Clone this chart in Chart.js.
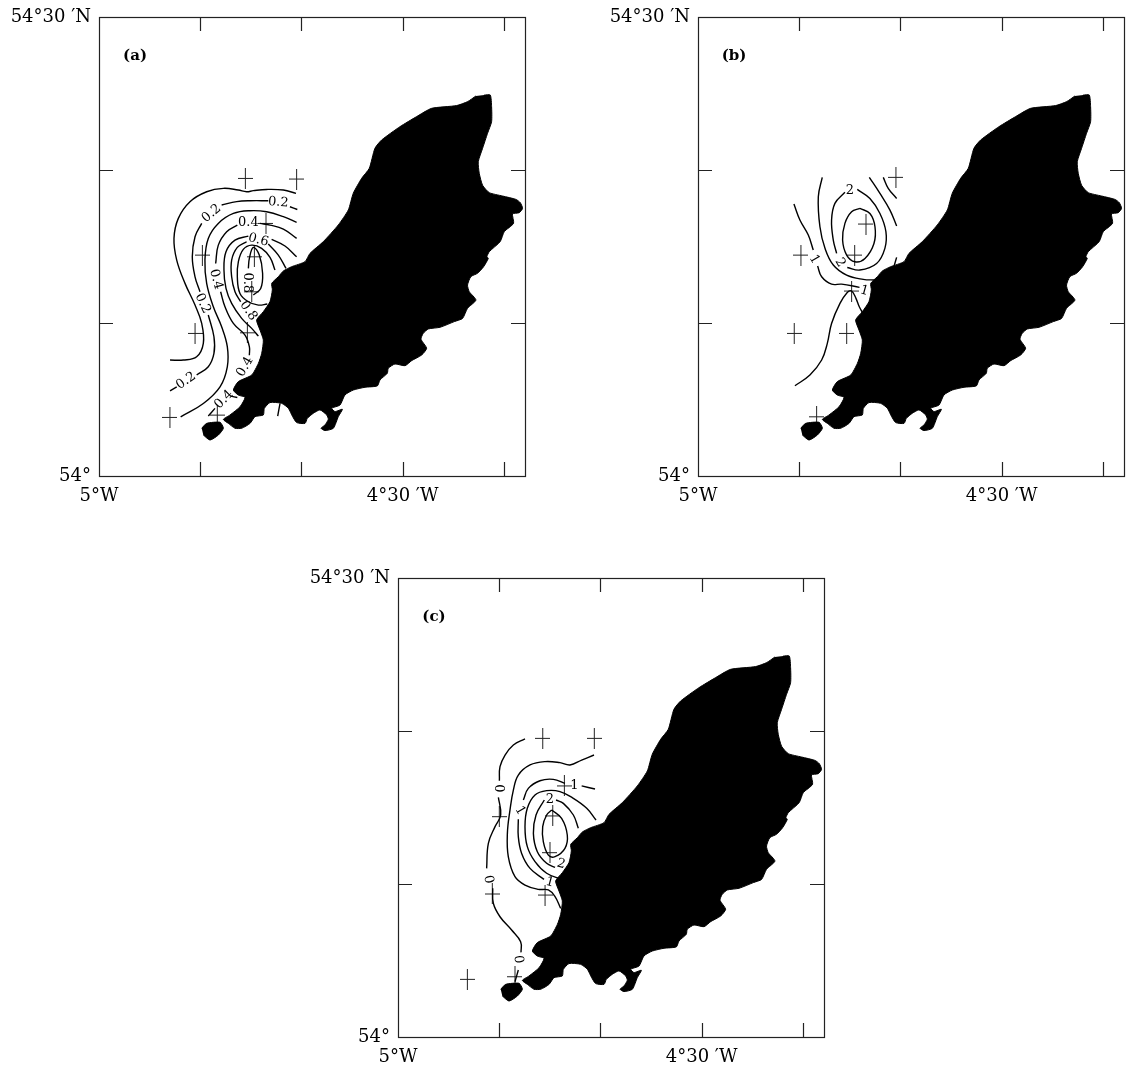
<!DOCTYPE html>
<html>
<head>
<meta charset="utf-8">
<script src="https://cdn.jsdelivr.net/npm/chart.js@4/dist/chart.umd.min.js"></script>
<style>
  html, body { margin: 0; padding: 0; background: #fff; }
  body { position: relative; width: 1128px; height: 1068px; overflow: hidden; }
  canvas { position: absolute; }
</style>
</head>
<body>
<canvas id="panelA" style="left:0;top:0"></canvas>
<canvas id="panelB" style="left:599px;top:0"></canvas>
<canvas id="panelC" style="left:299px;top:561px"></canvas>
<script>
// All positions are arc minutes: x east of 5 deg W, y north of 54 deg N
const xTickLabels = ['5°W', '', '', '4°30 ′W', ''];
const yTickLabels = ['54°', '', '', '54°30 ′N'];

const island = [
  [38.07,24.90],[38.67,24.90],[38.80,24.14],[38.80,23.16],[38.40,22.40],[37.91,21.42],[37.48,20.54],[37.58,19.78],
  [37.91,19.00],[38.57,18.52],[39.88,18.30],[41.20,18.08],[41.63,17.87],[41.86,17.49],[41.53,17.21],[40.87,17.13],
  [40.97,16.51],[40.05,15.97],[39.65,15.32],[38.57,14.66],[38.34,14.34],[38.47,14.22],[38.01,13.68],[37.41,13.25],
  [36.75,13.03],[36.42,12.48],[36.59,12.05],[37.25,11.50],[36.42,10.96],[35.93,10.30],[35.11,10.09],[33.70,9.72],
  [32.55,9.61],[32.05,9.33],[31.82,8.94],[32.38,8.35],[31.89,7.91],[30.90,7.54],[30.24,7.21],[29.25,7.32],
  [28.59,7.04],[28.49,6.71],[27.77,6.28],[27.51,5.89],[26.29,5.80],[25.14,5.62],[24.31,5.30],[23.82,4.64],
  [23.00,4.43],[23.32,4.21],[24.05,4.36],[23.65,3.88],[23.16,3.12],[22.34,2.97],[21.94,3.12],[22.34,3.34],
  [22.66,3.71],[22.50,3.99],[21.84,4.32],[21.18,4.10],[20.59,3.77],[20.36,3.44],[19.54,3.49],[19.14,3.88],
  [18.71,4.43],[18.05,4.75],[16.90,4.80],[16.34,4.42],[16.24,3.99],[15.42,3.88],[14.93,3.44],[14.10,3.12],
  [13.44,3.12],[12.78,3.44],[12.29,3.70],[12.95,3.99],[13.94,4.53],[14.43,5.14],[13.77,5.29],[13.28,5.62],
  [13.77,6.17],[15.09,6.60],[15.75,7.36],[16.08,8.02],[16.24,8.89],[15.91,9.54],[15.58,10.20],[16.24,10.74],
  [16.90,11.40],[17.13,12.16],[17.07,12.59],[17.73,13.03],[18.22,13.40],[19.04,13.68],[20.36,14.01],[20.85,14.55],
  [22.17,15.32],[23.65,16.41],[24.64,17.39],[25.13,18.48],[25.96,19.46],[26.71,20.11],[27.27,21.42],[27.93,21.96],
  [29.74,22.83],[31.39,23.49],[32.87,24.03],[35.34,24.21],[36.43,24.47],[37.25,24.84]
];
const calf = [[10.15,3.12],[10.64,3.44],[11.96,3.51],[12.29,3.12],[11.80,2.68],[10.97,2.35],[10.31,2.68]];

const stationsA = [[14.46,19.45],[19.53,19.41],[16.50,16.51],[10.21,14.44],[15.35,14.33],[15.09,12.04],[9.49,9.32],[14.66,9.36],[7.01,3.83],[11.69,3.98]];
const stationsB = [[19.56,19.52],[16.60,16.47],[10.17,14.44],[15.48,14.44],[15.18,12.09],[9.51,9.32],[14.69,9.32],[11.72,3.87]];
const stationsC = [[14.30,19.52],[19.40,19.52],[16.44,16.41],[10.01,14.40],[15.29,14.45],[15.02,12.05],[9.32,9.35],[14.53,9.28],[6.85,3.77],[11.56,3.94]];

const contoursA = [
  [[19.47,18.47],[18.22,18.69],[16.57,18.73],[15.25,18.65],[14.59,18.58],[13.77,18.69],[12.29,18.80],[10.64,18.58],[8.99,17.93],[7.84,16.84],[7.41,15.53],[7.68,14.11],[8.50,12.59],[9.49,11.17],[10.15,9.97],[10.31,8.67],[9.65,7.79],[8.33,7.58],[7.02,7.58]],
  [[16.73,17.99],[14.92,17.99],[13.60,17.93],[12.12,17.71]],
  [[10.15,16.51],[9.49,15.64],[9.22,14.33],[9.49,13.02],[9.98,12.04]],
  [[10.80,10.52],[11.36,9.10],[11.36,8.01],[10.80,7.14],[9.65,6.60]],
  [[7.02,5.57],[7.68,5.83]],
  [[18.87,17.60],[19.60,17.42]],
  [[19.53,16.58],[18.22,16.95],[16.57,17.27],[14.92,17.34],[13.28,17.16],[11.79,16.51],[10.80,15.53],[10.47,14.11],[10.64,12.59],[11.30,11.06],[12.12,9.75],[12.68,8.45],[12.68,7.14],[11.96,5.83],[10.31,4.74],[8.07,3.87]],
  [[19.53,15.53],[18.22,16.14],[16.90,16.40],[15.91,16.51]],
  [[13.67,16.40],[12.62,15.97],[11.79,15.09],[11.53,13.89]],
  [[12.02,12.04],[12.45,11.06],[13.28,9.97],[14.43,9.21],[14.86,8.45],[14.86,7.90]],
  [[10.80,3.92],[11.46,4.42]],
  [[13.04,5.22],[13.67,5.13]],
  [[19.53,14.33],[18.38,15.03],[17.06,15.46]],
  [[14.76,15.68],[13.44,15.42],[12.55,14.66],[12.35,13.46],[12.55,12.26],[13.11,11.28],[14.10,10.30],[15.09,9.65],[15.75,9.14]],
  [[18.48,13.57],[17.72,14.44],[16.73,15.16]],
  [[14.59,15.31],[13.67,14.94],[13.11,14.11],[13.11,13.02],[13.44,12.04],[14.00,11.39]],
  [[17.39,13.46],[16.90,14.29],[16.07,14.88],[15.09,15.09],[14.26,14.81],[13.77,14.00],[13.67,13.02],[13.93,11.93],[14.76,11.39],[15.75,11.17],[16.63,11.24]],
  [[14.76,13.57],[14.86,14.22],[15.25,14.94],[15.84,14.44],[16.17,13.24],[15.98,12.26],[15.25,11.83]],
  [[17.89,4.75],[17.66,3.92]]
];
const contoursB = [
  [[9.48,17.77],[10.07,16.73],[10.90,15.75],[11.39,14.77]],
  [[11.82,13.72],[12.22,13.02],[13.20,12.54],[14.19,12.54],[15.96,12.33]],
  [[12.28,19.52],[11.89,18.25],[12.05,16.29],[12.55,14.88],[13.37,13.79],[14.69,13.13],[16.33,12.85],[17.49,12.81]],
  [[14.52,18.54],[13.53,17.82],[13.20,16.73],[13.37,15.42],[13.70,14.55]],
  [[15.74,18.73],[16.99,18.14],[17.98,17.16],[18.57,15.97],[18.47,14.88],[17.65,13.89],[16.00,13.46],[14.75,13.63]],
  [[16.00,17.49],[16.99,17.16],[17.49,16.29],[17.39,15.20],[16.50,14.22],[15.51,14.00],[14.69,14.44],[14.29,15.42],[14.52,16.51],[15.18,17.27],[16.00,17.49]],
  [[16.93,19.52],[17.98,18.47],[18.97,17.38],[19.63,16.34]],
  [[18.31,19.52],[18.80,18.80],[19.63,18.14]],
  [[19.63,14.29],[19.36,13.68]],
  [[9.58,5.90],[11.06,6.60],[12.22,7.58],[12.78,8.67],[13.20,9.97],[14.03,11.28],[14.75,12.00],[15.18,12.09],[15.61,11.61],[15.94,11.06],[16.27,10.67]]
];
const contoursC = [
  [[12.55,19.48],[11.40,19.09],[10.58,18.43],[10.08,17.67],[10.02,16.75]],
  [[9.92,15.66],[10.15,14.51],[9.59,13.75],[8.93,12.66],[8.76,11.02]],
  [[9.36,9.72],[9.42,8.74],[10.08,7.86],[11.23,6.99],[12.12,6.23],[12.16,5.53]],
  [[11.89,4.38],[11.56,3.61]],
  [[19.37,18.43],[18.15,18.10],[17.00,17.78],[16.01,17.93],[14.53,18.00],[13.05,17.78],[11.89,17.12],[11.40,16.14],[11.07,14.84],[10.81,13.31],[10.90,11.79],[11.56,10.48],[12.55,9.93],[13.87,9.65],[14.86,9.61],[15.52,9.17],[16.08,8.41]],
  [[12.39,15.49],[12.88,16.25],[14.03,16.75],[15.35,16.84],[16.50,16.58]],
  [[18.15,16.41],[19.47,16.21]],
  [[11.89,14.23],[11.89,13.09],[12.22,12.00],[13.05,11.02],[14.43,10.30]],
  [[19.57,14.18],[18.65,14.95],[17.33,15.60],[16.01,16.04],[14.69,16.10],[13.54,15.82],[12.78,14.95],[12.55,13.75],[12.78,12.44],[13.54,11.46],[14.69,10.70],[16.17,10.30]],
  [[17.82,13.64],[17.33,14.51],[16.34,15.27],[15.62,15.49]],
  [[14.46,15.49],[13.64,14.51],[13.38,13.31],[13.77,12.11],[14.69,11.35],[15.52,11.09]],
  [[15.19,14.84],[16.17,14.29],[16.73,13.20],[16.50,12.33],[15.52,11.79],[14.86,11.89],[14.36,12.77],[14.30,13.75],[14.69,14.51],[15.19,14.84]]
];

// text, x, y, rotation in degrees
const contourLabelsA = [
  ['0.2',17.72,17.88,5],['0.2',11.13,17.16,-40],['0.4',14.76,16.55,0],['0.6',15.75,15.42,15],
  ['0.4',11.56,12.85,75],['0.8',14.66,12.63,90],['0.2',10.25,11.28,65],['0.8',14.76,10.80,55],
  ['0.4',14.43,7.14,-60],['0.2',8.60,6.22,-35],['0.4',12.35,5.00,-45]
];
const contourLabelsB = [['2',15.00,18.65,0],['1',11.49,14.16,60],['2',14.03,13.94,60],['1',16.43,12.11,15]];
const contourLabelsC = [
  ['0',9.92,16.25,90],['0',8.93,10.30,80],['0',11.89,5.07,85],['1',17.43,16.41,0],
  ['1',12.06,14.79,60],['2',15.02,15.53,0],['2',16.11,11.31,15],['1',15.02,10.11,15]
];

const SERIF = '"DejaVu Serif", serif';
const toPoints = pairs => pairs.map(p => ({ x: p[0], y: p[1] }));

// Thin, slightly tall cross used for the stations
const crossMark = document.createElement('canvas');
crossMark.width = 15;
crossMark.height = 21;
const cm = crossMark.getContext('2d');
cm.fillStyle = '#222';
cm.fillRect(7, 0, 1, 21);
cm.fillRect(0, 10, 15, 1);

// Frame and inward ticks, the scales only give the positions
const framePlugin = {
  id: 'frame',
  afterDraw: (chart) => {
    const ctx = chart.ctx;
    const a = chart.chartArea;
    const TICK = 14;
    ctx.save();
    ctx.strokeStyle = '#222';
    ctx.lineWidth = 1.2;
    ctx.strokeRect(a.left + 0.5, a.top + 0.5, a.right - a.left, a.bottom - a.top);
    ctx.beginPath();
    chart.scales.x.ticks.forEach(t => {
      if (t.value === 0) return;
      const px = Math.round(chart.scales.x.getPixelForValue(t.value)) + 0.5;
      ctx.moveTo(px, a.bottom);
      ctx.lineTo(px, a.bottom - TICK);
      ctx.moveTo(px, a.top);
      ctx.lineTo(px, a.top + TICK);
    });
    chart.scales.y.ticks.forEach(t => {
      if (t.value === 0 || t.value === 30) return;
      const py = Math.round(chart.scales.y.getPixelForValue(t.value)) + 0.5;
      ctx.moveTo(a.left, py);
      ctx.lineTo(a.left + TICK, py);
      ctx.moveTo(a.right, py);
      ctx.lineTo(a.right - TICK, py);
    });
    ctx.stroke();
    ctx.restore();
  }
};

// Contour values and the panel letter
const textPlugin = {
  id: 'mapText',
  afterDatasetsDraw: (chart, args, opts) => {
    const ctx = chart.ctx;
    const sx = chart.scales.x;
    const sy = chart.scales.y;
    ctx.save();
    ctx.fillStyle = '#000';
    ctx.textAlign = 'center';
    ctx.textBaseline = 'middle';
    ctx.font = 'bold 15px ' + SERIF;
    ctx.fillText(opts.letter, sx.getPixelForValue(3.56), sy.getPixelForValue(27.45));
    ctx.font = '13px ' + SERIF;
    opts.labels.forEach(l => {
      ctx.save();
      ctx.translate(sx.getPixelForValue(l[1]), sy.getPixelForValue(l[2]));
      ctx.rotate(l[3] * Math.PI / 180);
      ctx.fillText(l[0], 0, 0);
      ctx.restore();
    });
    ctx.restore();
  }
};

function createPanel(id, letter, contours, stations, labels) {
  const canvas = document.getElementById(id);
  canvas.width = 535;
  canvas.height = 520;
  const datasets = [];
  [island, calf].forEach(shape => {
    datasets.push({
      data: toPoints(shape), showLine: true, fill: 'shape', backgroundColor: '#000',
      borderColor: '#000', borderWidth: 1, pointRadius: 0, tension: 0.2
    });
  });
  contours.forEach(line => {
    datasets.push({
      data: toPoints(line), showLine: true, fill: false, borderColor: '#000',
      borderWidth: 1.4, pointRadius: 0, tension: 0.4
    });
  });
  datasets.push({
    data: toPoints(stations), showLine: false, pointStyle: crossMark, pointRadius: 8
  });
  return new Chart(canvas, {
    type: 'scatter',
    data: { datasets: datasets },
    options: {
      responsive: false,
      animation: false,
      layout: { padding: { top: 17, right: 10, bottom: 0, left: 0 } },
      plugins: {
        legend: { display: false },
        tooltip: { enabled: false },
        mapText: { letter: letter, labels: labels }
      },
      scales: {
        x: {
          type: 'linear', min: 0, max: 42.1,
          grid: { display: false }, border: { display: false },
          afterFit: s => { s.height = 44; },
          ticks: {
            stepSize: 10, includeBounds: false, autoSkip: false, maxRotation: 0, padding: 2,
            color: '#000', font: { family: SERIF, size: 18 },
            callback: (v, i) => xTickLabels[i]
          }
        },
        y: {
          type: 'linear', min: 0, max: 30,
          grid: { display: false }, border: { display: false },
          afterFit: s => { s.width = 99; },
          ticks: {
            stepSize: 10, includeBounds: false, autoSkip: false, padding: 0,
            color: '#000', font: { family: SERIF, size: 18 },
            callback: (v, i) => yTickLabels[i]
          }
        }
      }
    },
    plugins: [framePlugin, textPlugin]
  });
}

createPanel('panelA', '(a)', contoursA, stationsA, contourLabelsA);
createPanel('panelB', '(b)', contoursB, stationsB, contourLabelsB);
createPanel('panelC', '(c)', contoursC, stationsC, contourLabelsC);
</script>
</body>
</html>
